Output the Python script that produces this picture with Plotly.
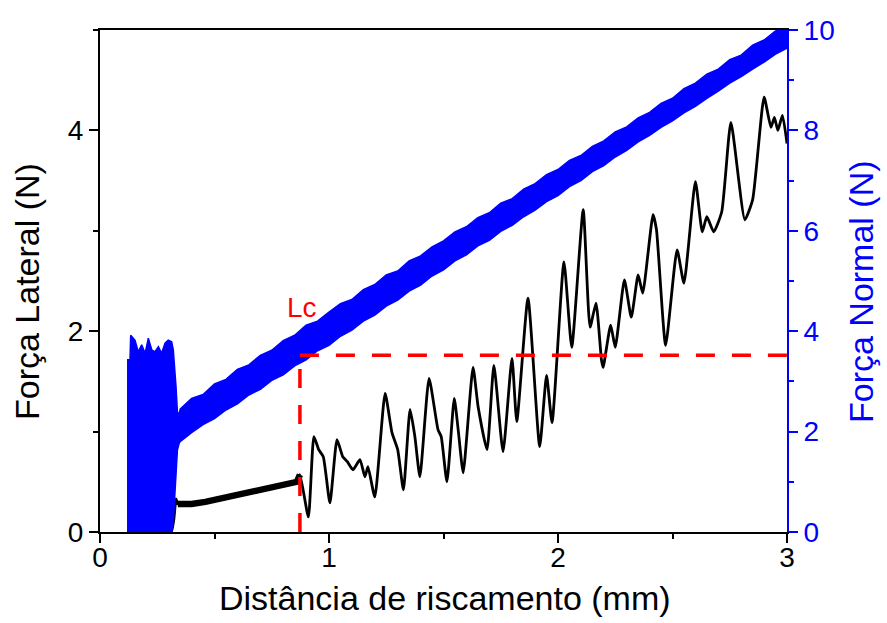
import plotly.graph_objects as go

# Lateral force (left axis, N) along the scratch
lat_x = [0.12, 0.20, 0.31, 0.322, 0.332, 0.34, 0.40, 0.46, 0.52, 0.58, 0.64, 0.70, 0.76, 0.82, 0.86, 0.873,
         0.91, 0.934, 0.955, 0.975, 1.004, 1.035, 1.06, 1.08, 1.105, 1.135, 1.157, 1.17, 1.20, 1.245, 1.275,
         1.30, 1.325, 1.354, 1.375, 1.397, 1.437, 1.476, 1.49, 1.515, 1.547, 1.565, 1.586, 1.629, 1.651,
         1.69, 1.72, 1.76, 1.799, 1.82, 1.869, 1.92, 1.95, 1.974, 2.026, 2.06, 2.11, 2.14, 2.166, 2.19,
         2.197, 2.23, 2.25, 2.29, 2.32, 2.35, 2.37, 2.415, 2.43, 2.47, 2.52, 2.55, 2.60, 2.63, 2.65, 2.68,
         2.715, 2.755, 2.816, 2.85, 2.90, 2.93, 2.945, 2.96, 2.98, 3.0]
lat_y = [0.0, 0.0, 0.0, 0.12, 0.33, 0.28, 0.28, 0.30, 0.33, 0.35, 0.38, 0.41, 0.44, 0.47, 0.50, 0.57,
         0.15, 0.95, 0.82, 0.75, 0.29, 0.92, 0.75, 0.70, 0.62, 0.72, 0.55, 0.65, 0.35, 1.38, 0.99,
         0.82, 0.42, 1.22, 0.95, 0.55, 1.53, 1.02, 0.95, 0.50, 1.33, 1.00, 0.59, 1.64, 1.25,
         0.82, 1.66, 0.80, 1.73, 1.10, 2.33, 0.85, 1.56, 1.09, 2.69, 1.84, 3.21, 2.04, 2.28, 1.71,
         1.64, 2.06, 1.84, 2.51, 2.14, 2.56, 2.38, 3.16, 3.01, 1.86, 2.81, 2.48, 3.49, 2.99, 3.14, 2.99,
         3.19, 4.08, 3.11, 3.31, 4.33, 4.03, 4.13, 4.00, 4.15, 3.87]

# Normal force (right axis, N): lower and upper envelope of the recorded signal
norm_x = [0.118, 0.131, 0.134, 0.153, 0.167, 0.182, 0.197, 0.211, 0.226, 0.240, 0.255, 0.269, 0.284,
          0.298, 0.313, 0.320, 0.332, 0.338, 0.346,
          0.35, 0.40, 0.45, 0.50, 0.55, 0.60, 0.65, 0.70, 0.75, 0.80, 0.85, 0.90, 0.95, 1.00, 1.05,
          1.10, 1.15, 1.20, 1.25, 1.30, 1.35, 1.40, 1.45, 1.50, 1.55, 1.60, 1.65, 1.70, 1.75, 1.80,
          1.85, 1.90, 1.95, 2.00, 2.05, 2.10, 2.15, 2.20, 2.25, 2.30, 2.35, 2.40, 2.45, 2.50, 2.55,
          2.60, 2.65, 2.70, 2.75, 2.80, 2.85, 2.90, 2.95, 3.00]
norm_hi = [3.43, 3.43, 3.92, 3.82, 3.59, 3.73, 3.56, 3.86, 3.63, 3.59, 3.69, 3.56, 3.76,
           3.82, 3.79, 3.63, 2.89, 2.40, 2.33,
           2.45, 2.66, 2.74, 2.95, 3.04, 3.24, 3.33, 3.52, 3.62, 3.81, 3.92, 4.12, 4.20, 4.38, 4.55,
           4.63, 4.83, 4.93, 5.12, 5.20, 5.40, 5.50, 5.68, 5.80, 5.98, 6.08, 6.26, 6.36, 6.55, 6.64,
           6.83, 6.94, 7.12, 7.22, 7.40, 7.50, 7.68, 7.79, 7.97, 8.07, 8.25, 8.36, 8.54, 8.64, 8.83,
           8.94, 9.12, 9.22, 9.41, 9.50, 9.70, 9.80, 9.98, 10.05]
norm_lo = [0.0, 0.0, 0.0, 0.0, 0.0, 0.0, 0.0, 0.0, 0.0, 0.0, 0.0, 0.0, 0.0,
           0.0, 0.0, 0.2, 1.2, 1.63, 1.77,
           1.80, 1.98, 2.14, 2.26, 2.43, 2.55, 2.73, 2.84, 3.02, 3.13, 3.31, 3.43, 3.61, 3.72, 3.90,
           4.02, 4.20, 4.32, 4.50, 4.62, 4.80, 4.92, 5.10, 5.22, 5.40, 5.52, 5.70, 5.81, 5.99, 6.11,
           6.28, 6.41, 6.58, 6.70, 6.88, 7.00, 7.18, 7.30, 7.47, 7.60, 7.77, 7.90, 8.06, 8.19, 8.35,
           8.48, 8.64, 8.78, 8.94, 9.07, 9.22, 9.36, 9.52, 9.64]

# Critical load marker (Lc)
lc_x = 0.873
lc_y = 1.76

BLUE = "#0000FF"
RED = "#FF0000"
FONT = "Liberation Sans, Arial, sans-serif"

fig = go.Figure()

fig.add_trace(go.Scatter(x=lat_x, y=lat_y, mode="lines",
                         line=dict(color="black", width=2.8, shape="spline", smoothing=0.5),
                         hoverinfo="skip"))
# noisy plateau before Lc appears as a thicker trace
plateau = slice(5, 16)
fig.add_trace(go.Scatter(x=lat_x[plateau], y=lat_y[plateau], mode="lines",
                         line=dict(color="black", width=6.5), hoverinfo="skip"))

fig.add_trace(go.Scatter(x=norm_x + norm_x[::-1], y=norm_hi + norm_lo[::-1], mode="lines",
                         fill="toself", fillcolor=BLUE, line=dict(color=BLUE, width=1.5),
                         yaxis="y2", hoverinfo="skip"))

fig.add_shape(type="line", x0=lc_x, x1=lc_x, y0=0, y1=lc_y, xref="x", yref="y",
              line=dict(color=RED, width=3.5, dash="19px,17px"), layer="above")
fig.add_shape(type="line", x0=lc_x, x1=3.0, y0=lc_y, y1=lc_y, xref="x", yref="y",
              line=dict(color=RED, width=3.5, dash="19px,17px"), layer="above")

fig.add_annotation(x=0.88, y=2.24, xref="x", yref="y", text="Lc", showarrow=False,
                   xanchor="center", yanchor="middle",
                   font=dict(family=FONT, size=28, color=RED))

fig.add_annotation(x=0.502, y=-0.131, xref="paper", yref="paper", text="Distância de riscamento (mm)",
                   showarrow=False, xanchor="center", yanchor="middle",
                   font=dict(family=FONT, size=34, color="black"))
fig.add_annotation(x=-0.1063, y=0.48, xref="paper", yref="paper", text="Força Lateral (N)",
                   textangle=-90, showarrow=False, xanchor="center", yanchor="middle",
                   font=dict(family=FONT, size=34, color="black"))
fig.add_annotation(x=1.1077, y=0.48, xref="paper", yref="paper", text="Força Normal (N)",
                   textangle=-90, showarrow=False, xanchor="center", yanchor="middle",
                   font=dict(family=FONT, size=34, color=BLUE))

fig.update_layout(
    width=887, height=623,
    margin=dict(l=100, r=100, t=30, b=91),
    plot_bgcolor="white", paper_bgcolor="white",
    showlegend=False,
    font=dict(family=FONT),
    xaxis=dict(range=[0, 3], tickvals=[0, 1, 2, 3], ticks="outside", ticklen=9, tickwidth=1.5,
               tickcolor="black", showline=True, linecolor="black", linewidth=2, mirror=True,
               showgrid=False, zeroline=False, tickfont=dict(size=28, color="black"),
               ticklabelstandoff=-10,
               minor=dict(dtick=0.5, ticks="outside", ticklen=5, tickcolor="black", tickwidth=1.5)),
    yaxis=dict(range=[0, 5], tickvals=[0, 2, 4], ticks="outside", ticklen=9, tickwidth=1.5,
               tickcolor="black", showline=True, linecolor="black", linewidth=2,
               showgrid=False, zeroline=False, tickfont=dict(size=28, color="black"),
               ticksuffix="\u00a0",
               minor=dict(dtick=1, ticks="outside", ticklen=5, tickcolor="black", tickwidth=1.5)),
    yaxis2=dict(range=[0, 10], tickvals=[0, 2, 4, 6, 8, 10], overlaying="y", side="right",
                ticks="outside", ticklen=9, tickwidth=1.5, tickcolor=BLUE, showline=True,
                linecolor=BLUE, linewidth=2, showgrid=False, zeroline=False,
                tickfont=dict(size=28, color=BLUE),
                minor=dict(dtick=1, ticks="outside", ticklen=5, tickcolor=BLUE, tickwidth=1.5)),
)

fig.write_html("out.html")
